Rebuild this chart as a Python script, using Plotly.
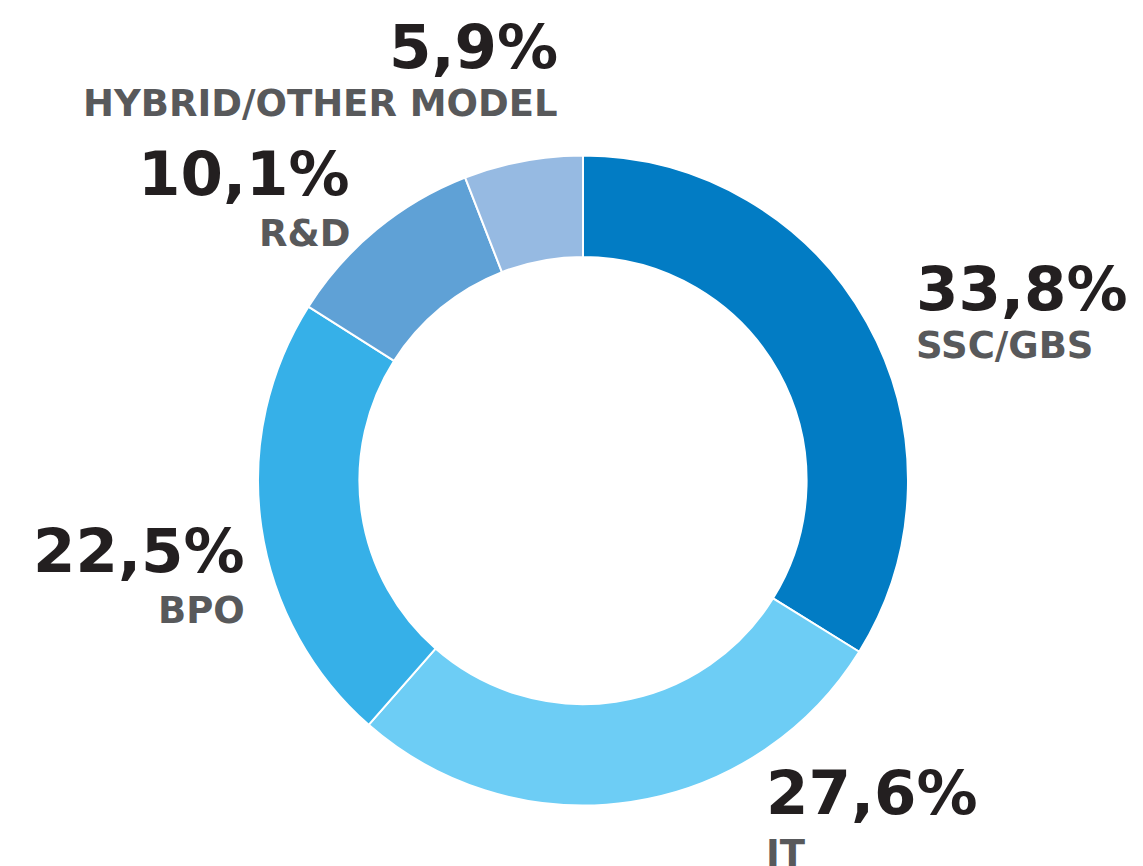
import plotly.graph_objects as go

categories = ["SSC/GBS", "IT", "BPO", "R&D", "HYBRID/OTHER MODEL"]
shares = [33.8, 27.6, 22.5, 10.1, 5.9]
colors = ["#027CC4", "#6DCDF5", "#36B0E8", "#5FA1D6", "#96BAE2"]

W, H = 1143, 866
OFF = 8  # page body margin offset
cx, cy, r = 583 - OFF, 480.5 - OFF, 325

fig = go.Figure(go.Pie(
    labels=categories,
    values=shares,
    hole=0.688,
    sort=False,
    direction="clockwise",
    rotation=0,
    marker=dict(colors=colors, line=dict(color="white", width=2)),
    textinfo="none",
    hoverinfo="label+percent",
    showlegend=False,
    domain=dict(x=[(cx - r) / W, (cx + r) / W], y=[1 - (cy + r) / H, 1 - (cy - r) / H]),
))

# label placement in reference pixels: (x edge, anchor, percent-center y, label-center y)
placements = {
    "SSC/GBS": (918, "left", 288, 346),
    "IT": (768, "left", 792, 853),
    "BPO": (243, "right", 550, 610),
    "R&D": (348, "right", 173, 233),
    "HYBRID/OTHER MODEL": (556, "right", 46, 104),
}

font_family = "'DejaVu Sans', Inter, sans-serif"
annotations = []
for cat, val in zip(categories, shares):
    x, anchor, yp, yl = placements[cat]
    xs = x - OFF - 4 if anchor == "left" else x - OFF + 4
    pct = f"{val:.1f}".replace(".", ",") + "%"
    annotations.append(dict(
        x=xs / W, y=1 - (yp - OFF) / H, xref="paper", yref="paper",
        text=pct, showarrow=False, xanchor=anchor, yanchor="middle",
        font=dict(family=font_family, size=61, color="#231F20", weight="bold"),
    ))
    annotations.append(dict(
        x=xs / W, y=1 - (yl - OFF) / H, xref="paper", yref="paper",
        text=cat, showarrow=False, xanchor=anchor, yanchor="middle",
        font=dict(family=font_family, size=37, color="#58595B", weight="bold"),
    ))

fig.update_layout(
    width=W, height=H,
    margin=dict(l=0, r=0, t=0, b=0),
    paper_bgcolor="white",
    plot_bgcolor="white",
    annotations=annotations,
)

fig.write_html("out.html")
